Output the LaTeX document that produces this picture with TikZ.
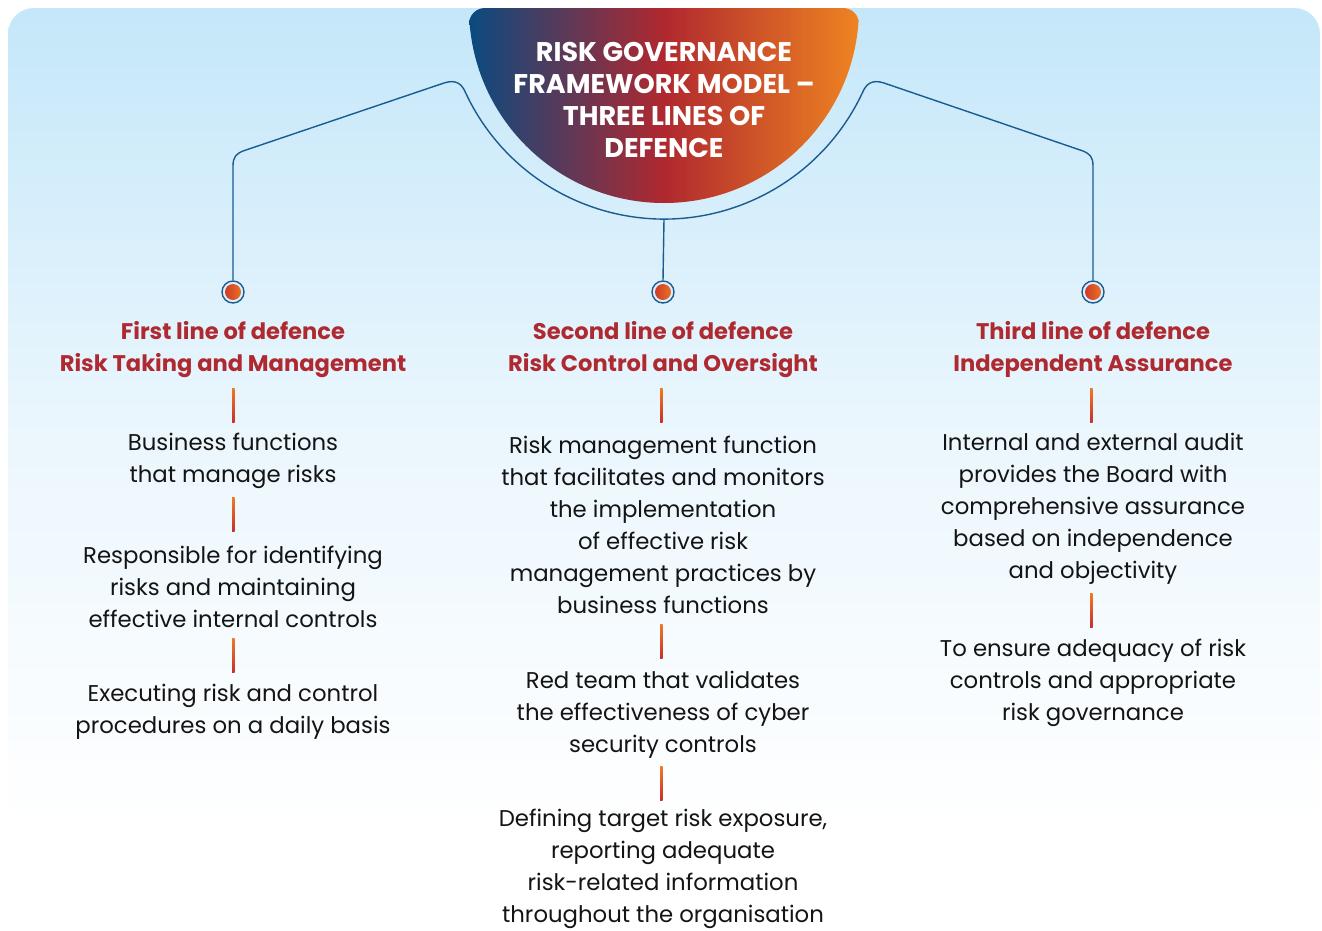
\documentclass[tikz,border=0pt]{standalone}
\usepackage{fontspec}
\setmainfont{Poppins}
\definecolor{bgtop}{HTML}{C4E7F9}
\definecolor{bgmid}{HTML}{EAF6FD}
\definecolor{connblue}{HTML}{1A5C92}
\definecolor{dotred}{HTML}{C9302C}
\definecolor{dotorange}{HTML}{EE7B22}
\definecolor{semiblue}{HTML}{0A4A80}
\definecolor{semired}{HTML}{B0282F}
\definecolor{semiorange}{HTML}{EF8421}
\definecolor{headred}{HTML}{AF2A30}
\definecolor{bodytext}{HTML}{141414}
\pgfdeclarehorizontalshading{semishade}{100bp}{color(0bp)=(semiblue); color(25bp)=(semiblue); color(50bp)=(semired); color(75bp)=(semiorange); color(100bp)=(semiorange)}
\begin{document}
\begin{tikzpicture}[x=1pt,y=-1pt,
  conn/.style={draw=connblue, line width=1.4pt},
  dot/.style={circle, draw=connblue, line width=1.4pt, minimum size=22pt, inner sep=0pt,
    path picture={\shade[left color=dotred, right color=dotorange] (path picture bounding box.center) circle (8pt);}},
  title/.style={align=center, text=white, font=\fontsize{27}{32}\selectfont\bfseries, inner sep=0pt},
  heading/.style={align=center, text=headred, font=\fontsize{22.6}{32}\selectfont\bfseries, inner sep=0pt},
  body/.style={align=center, text=bodytext, font=\fontsize{22.8}{32}\selectfont, inner sep=0pt},
  sepbar/.style={top color=dotorange, bottom color=dotred}
]
\useasboundingbox (0,0) rectangle (1322,930);
% background
\shade[rounded corners=26pt, top color=bgtop, bottom color=white, middle color=bgmid]
  (8,8) rectangle (1320,828);
% semicircle title
\begin{scope}
  \clip[rounded corners=16pt] (469,8) rectangle (859,260);
  \shade[shading=semishade]
    (859,8) arc[start angle=0, end angle=180, radius=195] -- cycle;
\end{scope}
\node[title] (title) at (664,100) {RISK GOVERNANCE\\FRAMEWORK MODEL --\\THREE LINES OF\\DEFENCE};
% dots
\node[dot] (d1) at (233,292) {};
\node[dot] (d2) at (663,292) {};
\node[dot] (d3) at (1093,292) {};
% connectors
\coordinate (arcL) at (465.5,92.6);
\coordinate (arcB) at (664,219);
\draw[conn] (d1.north) -- (233,166) .. controls (233,157) and (236,154) .. (243,151)
  -- (444,83) .. controls (456,79) and (462,84) .. (arcL)
  arc[start angle=155, end angle=25, radius=219]
  .. controls (866,84) and (872,79) .. (884,83) -- (1083,151)
  .. controls (1090,154) and (1093,157) .. (1093,166) -- (d3.north);
\draw[conn] (arcB) -- (d2.north);
% column 1
\node[heading] (h1) at (233,350) {First line of defence\\Risk Taking and Management};
\node[body] (a1) at (233,461) {Business functions\\that manage risks};
\node[body] (a2) at (233,587) {Responsible for identifying\\risks and maintaining\\effective internal controls};
\node[body] (a3) at (233,712) {Executing risk and control\\procedures on a daily basis};
\shade[sepbar] (232,388) rectangle (234.6,422);
\shade[sepbar] (232,497) rectangle (234.6,531);
\shade[sepbar] (232,638) rectangle (234.6,672);
% column 2
\node[heading] (h2) at (663,350) {Second line of defence\\Risk Control and Oversight};
\node[body] (b1) at (663,525) {Risk management function\\that facilitates and monitors\\the implementation\\of effective risk\\management practices by\\business functions};
\node[body] (b2) at (663,715) {Red team that validates\\the effectiveness of cyber\\security controls};
\node[body] (b3) at (663,869) {Defining target risk exposure,\\reporting adequate\\risk-related information\\throughout the organisation};
\shade[sepbar] (660,388) rectangle (662.6,422);
\shade[sepbar] (660,624) rectangle (662.6,658);
\shade[sepbar] (660,766) rectangle (662.6,800);
% column 3
\node[heading] (h3) at (1093,349) {Third line of defence\\Independent Assurance};
\node[body] (c1) at (1093,509) {Internal and external audit\\provides the Board with\\comprehensive assurance\\based on independence\\and objectivity};
\node[body] (c2) at (1093,683) {To ensure adequacy of risk\\controls and appropriate\\risk governance};
\shade[sepbar] (1090,388) rectangle (1092.6,422);
\shade[sepbar] (1090,593) rectangle (1092.6,627);
\end{tikzpicture}
\end{document}
